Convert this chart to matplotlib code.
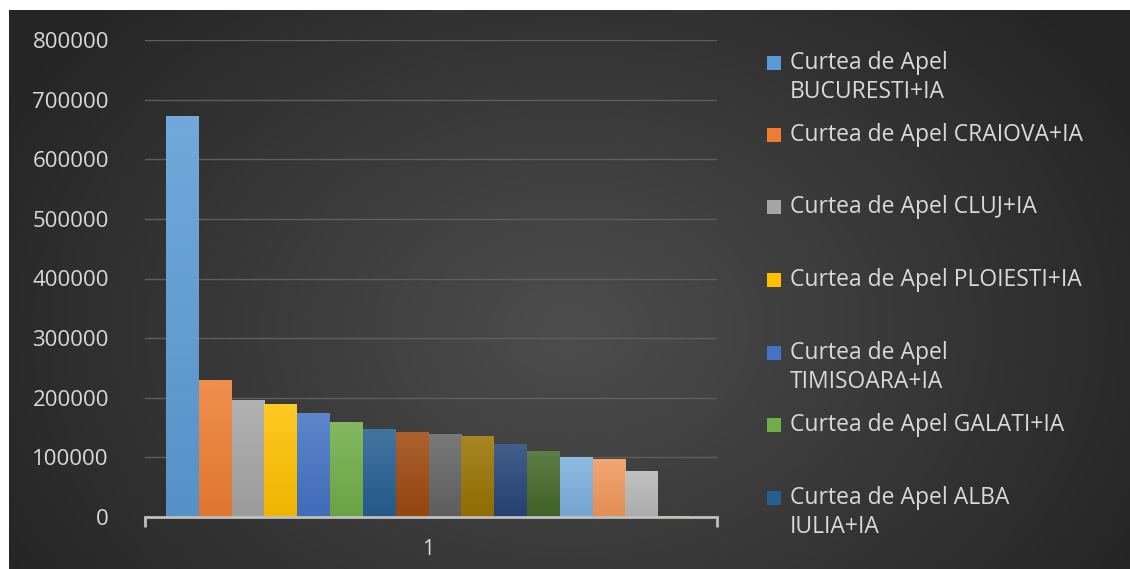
import matplotlib
matplotlib.use("Agg")
import matplotlib.pyplot as plt
import numpy as np
from matplotlib.colors import to_rgb, LinearSegmentedColormap
from matplotlib.patches import Rectangle

# ==============================================================================
courts = [ "Curtea de Apel BUCURESTI+IA", "Curtea de Apel CRAIOVA+IA",
           "Curtea de Apel CLUJ+IA", "Curtea de Apel PLOIESTI+IA",
           "Curtea de Apel TIMISOARA+IA", "Curtea de Apel GALATI+IA",
           "Curtea de Apel ALBA IULIA+IA", "Curtea de Apel BRASOV+IA",
           "Curtea de Apel CONSTANTA+IA", "Curtea de Apel IASI+IA",
           "Curtea de Apel ORADEA+IA", "Curtea de Apel PITESTI+IA",
           "Curtea de Apel SUCEAVA+IA", "Curtea de Apel TARGU MURES+IA",
           "Curtea de Apel BACAU+IA", "Curtea Militara de Apel+IA" ]

values = [ 672000, 229000, 197000, 189000, 175000, 160000, 147000, 143000,
           138500, 136500, 122000, 111000, 100500, 96500, 77500, 1500 ]

# legend text as wrapped in the picture (only the first 7 are visible)
legend_lines = [ ["Curtea de Apel", "BUCURESTI+IA"],
                 ["Curtea de Apel CRAIOVA+IA"],
                 ["Curtea de Apel CLUJ+IA"],
                 ["Curtea de Apel PLOIESTI+IA"],
                 ["Curtea de Apel", "TIMISOARA+IA"],
                 ["Curtea de Apel GALATI+IA"],
                 ["Curtea de Apel ALBA", "IULIA+IA"] ]

category = "1"
# ==============================================================================
colors = [ "#5B9BD5", "#ED7D31", "#A5A5A5", "#FFC000", "#4472C4", "#70AD47",
           "#255E91", "#9E480E", "#636363", "#997300", "#264478", "#43682B",
           "#7CAFDD", "#F1975A", "#B7B7B7", "#FFCD33" ]

text_color = "#D9D9D9"
font = "Open Sans"
W, H = 1130, 569

fig = plt.figure( figsize = (W / 100, H / 100), dpi = 100 )
fig.patch.set_facecolor( "white" )

# dark radial background (Excel style), leaving the white strip top / left
bg = fig.add_axes( [9 / W, 0, (W - 9) / W, (H - 10) / H] )
bg.set_zorder( -10 )
yy, xx = np.mgrid[0:559, 0:1121]
r = np.sqrt( ((xx - 560) / 650.0) ** 2 + ((yy - 320) / 480.0) ** 2 )
r = np.clip( r, 0, 1 )
c_in = np.array( to_rgb("#4d4d4d") )
c_out = np.array( to_rgb("#252525") )
img = c_in[None, None, :] * (1 - r[..., None]) + c_out[None, None, :] * r[..., None]
bg.imshow( img, aspect = "auto", interpolation = "bilinear" )
bg.axis( "off" )

ax = fig.add_axes( [145 / W, (H - 517) / H, 572 / W, 477 / H] )
ax.patch.set_alpha( 0 )

xpos = np.arange( len(values) )
bars = ax.bar( xpos, values, width = 1.0, color = colors, zorder = 3,
               linewidth = 0 )

# soft vertical gradient on every bar
for bar, col in zip( bars, colors ):
   base = np.array( to_rgb(col) )
   top = base + (1 - base) * 0.14
   bottom = base * 0.94
   cmap = LinearSegmentedColormap.from_list( "g", [bottom, top] )
   grad = np.linspace( 0, 1, 64 ).reshape( -1, 1 )
   x0 = bar.get_x()
   im = ax.imshow( grad, extent = [x0, x0 + bar.get_width(), 0, bar.get_height()],
                   origin = "lower", aspect = "auto", cmap = cmap, zorder = 4 )
   im.set_clip_path( bar )

ax.set_xlim( -1.14, len(values) - 0.5 + 0.79 )
ax.set_ylim( 0, 800000 )
ax.set_yticks( np.arange(0, 800001, 100000) )
ax.yaxis.grid( True, color = "#5e5e5e", linewidth = 1.0, zorder = 0 )
ax.set_axisbelow( True )

for s in ["top", "right", "left"]:
   ax.spines[s].set_visible( False )
ax.spines["bottom"].set_color( "#BFBFBF" )
ax.spines["bottom"].set_linewidth( 2 )
ax.spines["bottom"].set_zorder( 5 )

ax.set_xticks( [(len(values) - 1) / 2.0] )
ax.set_xticklabels( [category] )
ax.set_xticks( list(ax.get_xlim()), minor = True )
ax.tick_params( axis = "x", which = "major", length = 0, pad = 16,
                labelcolor = text_color, labelsize = 15 )
ax.tick_params( axis = "x", which = "minor", length = 7, width = 2,
                color = "#BFBFBF", direction = "out" )
ax.tick_params( axis = "y", length = 0, pad = 26, labelcolor = text_color,
                labelsize = 16 )
for lab in ax.get_xticklabels() + ax.get_yticklabels():
   lab.set_fontfamily( font )

# ==============================================================================
# legend drawn by hand to follow the spacing of the original
entry_y = [ 63, 135, 207, 280, 353, 425, 498 ]
line_step = 29
for lines, y, col in zip( legend_lines, entry_y, colors ):
   fig.patches.append( Rectangle( (767 / W, (H - y - 7) / H), 14 / W, 14 / H,
                                  transform = fig.transFigure,
                                  facecolor = col, edgecolor = "none" ) )
   for k, line in enumerate( lines ):
      fig.text( 790 / W, (H - y - k * line_step) / H, line, color = text_color,
                fontsize = 16.5, family = font, va = "center", ha = "left" )

plt.savefig( "out.png", dpi = 100 )
